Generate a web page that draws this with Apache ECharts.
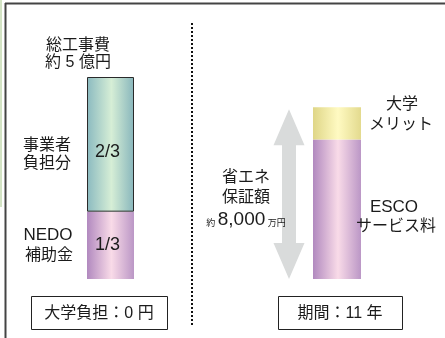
<!DOCTYPE html>
<html>
<head>
<meta charset="utf-8">
<script src="https://cdn.jsdelivr.net/npm/echarts@6/dist/echarts.min.js"></script>
<style>
  html, body { margin: 0; padding: 0; background: #fff; }
  #chart { width: 445px; height: 338px; }
</style>
</head>
<body>
<div id="chart"></div>
<script>
// Left column: total construction cost split into shares (fraction of total)
const costCategories = ['総工事費'];
const nedoSubsidy = [1 / 3];
const ownerShare = [2 / 3];
const shareLabels = ['1/3', '2/3'];

// Right column: ESCO fee and university merit (same fraction scale)
const escoCategories = ['ESCO'];
const escoFee = [0.69];
const universityMerit = [0.16];

const FONT = '"Liberation Sans", "Noto Sans CJK JP", sans-serif';
const INK = '#1b1b1b';

function hGrad(edgeL, mid, edgeR) {
  return new echarts.graphic.LinearGradient(0, 0, 1, 0, [
    { offset: 0, color: edgeL },
    { offset: 0.52, color: mid },
    { offset: 1, color: edgeR }
  ]);
}
const purple = () => hGrad('#b189bf', '#f9dbe8', '#bb97c6');
const teal = hGrad('#8bbac0', '#d6eed6', '#88b6bc');
const yellow = hGrad('#dfd687', '#fffac2', '#e3da8e');

const chart = echarts.init(document.getElementById('chart'), null, { renderer: 'canvas' });

chart.setOption({
  animation: false,
  backgroundColor: '#ffffff',
  grid: [
    { left: 60, width: 101, top: 77, bottom: 59 },
    { left: 287, width: 100, top: 77, bottom: 59 }
  ],
  xAxis: [
    { type: 'category', gridIndex: 0, data: costCategories, show: false },
    { type: 'category', gridIndex: 1, data: escoCategories, show: false }
  ],
  yAxis: [
    { type: 'value', gridIndex: 0, min: 0, max: 1, show: false },
    { type: 'value', gridIndex: 1, min: 0, max: 1, show: false }
  ],
  series: [
    {
      name: 'NEDO補助金', type: 'bar', stack: 'cost', xAxisIndex: 0, yAxisIndex: 0,
      barWidth: 47, data: nedoSubsidy,
      itemStyle: { color: purple() },
      label: {
        show: true, position: 'inside', formatter: shareLabels[0], offset: [-3, 0],
        fontFamily: FONT, fontSize: 18, color: INK
      }
    },
    {
      name: '事業者負担分', type: 'bar', stack: 'cost', xAxisIndex: 0, yAxisIndex: 0,
      barWidth: 47, data: ownerShare,
      itemStyle: { color: teal, borderColor: '#2a2a2a', borderWidth: 1 },
      label: {
        show: true, position: 'inside', formatter: shareLabels[1], offset: [-3, 8],
        fontFamily: FONT, fontSize: 18, color: INK
      }
    },
    {
      name: 'ESCOサービス料', type: 'bar', stack: 'esco', xAxisIndex: 1, yAxisIndex: 1,
      barWidth: 48, data: escoFee,
      itemStyle: { color: purple() }
    },
    {
      name: '大学メリット', type: 'bar', stack: 'esco', xAxisIndex: 1, yAxisIndex: 1,
      barWidth: 48, data: universityMerit,
      itemStyle: { color: yellow }
    }
  ]
});

// Guaranteed-savings arrow spans from zero up to the top of the right stack
const yBottom = chart.convertToPixel({ yAxisIndex: 1 }, 0);
const yTop = chart.convertToPixel({ yAxisIndex: 1 }, escoFee[0] + universityMerit[0]) + 2;
const ax = 289, headHalf = 15.5, shaftHalf = 7, headLen = 36;
const arrowPoints = [
  [ax, yTop],
  [ax + headHalf, yTop + headLen],
  [ax + shaftHalf, yTop + headLen],
  [ax + shaftHalf, yBottom - headLen],
  [ax + headHalf, yBottom - headLen],
  [ax, yBottom],
  [ax - headHalf, yBottom - headLen],
  [ax - shaftHalf, yBottom - headLen],
  [ax - shaftHalf, yTop + headLen],
  [ax - headHalf, yTop + headLen]
];

function txt(x, y, text, size, extra) {
  return Object.assign({
    type: 'text', x: x, y: y, z: 10,
    style: {
      text: text, fontFamily: FONT, fontSize: size || 16, fill: INK,
      align: 'center', verticalAlign: 'middle'
    }
  }, extra || {});
}

function box(x, y, w, h, label) {
  return [
    { type: 'rect', shape: { x: x + 0.5, y: y + 0.5, width: w, height: h }, z: 5,
      style: { fill: '#fff', stroke: '#222', lineWidth: 1 } },
    txt(x + w / 2, y + h / 2 + 1, label, 16)
  ];
}

chart.setOption({
  graphic: [
    // frame
    { type: 'line', shape: { x1: 1, y1: 0, x2: 1, y2: 207 }, style: { stroke: '#a8c98a', lineWidth: 1 } },
    { type: 'line', shape: { x1: 5, y1: 3.5, x2: 445, y2: 3.5 }, style: { stroke: '#444', lineWidth: 2 } },
    { type: 'line', shape: { x1: 5.5, y1: 3, x2: 5.5, y2: 338 }, style: { stroke: '#444', lineWidth: 2 } },
    // dotted divider
    { type: 'line', shape: { x1: 192, y1: 23, x2: 192, y2: 326 },
      style: { stroke: '#111', lineWidth: 2, lineDash: [2, 2] } },
    // arrow
    { type: 'polygon', shape: { points: arrowPoints }, z: 1, style: { fill: '#d9dbdb' } },

    // left annotations
    txt(78, 46, '総工事費', 16),
    txt(78, 63, '約 5 億円', 16),
    txt(47, 146, '事業者', 16),
    txt(47, 164, '負担分', 16),
    txt(48, 235, 'NEDO', 17),
    txt(49, 256, '補助金', 16),
    ...box(31, 296, 136, 33, '大学負担：0 円'),

    // right annotations
    txt(402, 105, '大学', 16),
    txt(401, 125, 'メリット', 16),
    txt(394, 207, 'ESCO', 17),
    txt(396, 227, 'サービス料', 16),
    txt(246, 178, '省エネ', 16),
    txt(246, 198, '保証額', 16),
    {
      type: 'text', x: 246, y: 220, z: 10,
      style: {
        text: '{s|約 }{b|8,000}{s| 万円}',
        align: 'center', verticalAlign: 'middle',
        rich: {
          s: { fontFamily: FONT, fontSize: 9, fill: INK, verticalAlign: 'bottom', padding: [0, 0, 1, 0] },
          b: { fontFamily: FONT, fontSize: 19, fill: INK }
        }
      }
    },
    ...box(278, 296, 124, 33, '期間：11 年')
  ]
});
</script>
</body>
</html>
